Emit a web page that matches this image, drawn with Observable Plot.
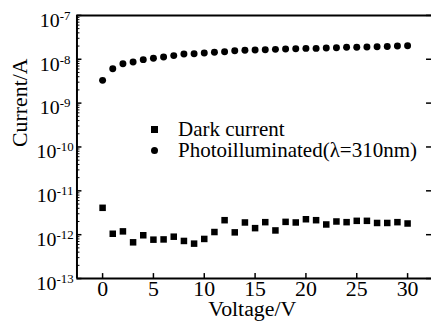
<!DOCTYPE html>
<html><head><meta charset="utf-8">
<script src="https://cdn.jsdelivr.net/npm/d3@7"></script>
<script src="https://cdn.jsdelivr.net/npm/@observablehq/plot@0.6"></script>
<style>
html,body{margin:0;padding:0;background:#fff;overflow:hidden;}
#wrap{position:relative;width:431px;height:321px;overflow:hidden;}
#wrap svg{display:block;font-family:"Liberation Serif","Times New Roman","DejaVu Serif",serif !important;}
#wrap svg text{font-family:"Liberation Serif","Times New Roman","DejaVu Serif",serif !important;}
.legend{position:absolute;left:151px;top:119px;font-family:"Liberation Serif","Times New Roman","DejaVu Serif",serif;font-size:21px;color:#000;}
.row{display:flex;align-items:center;height:21px;line-height:21px;white-space:nowrap;}
.mk{width:7px;height:7px;background:#000;margin-right:20px;flex:none;}
.mk.circ{border-radius:50%;}
</style>
</head><body>
<div id="wrap"></div>
<script>
const voltage = [0,1,2,3,4,5,6,7,8,9,10,11,12,13,14,15,16,17,18,19,20,21,22,23,24,25,26,27,28,29,30];
const darkCurrent = [4.1e-12,1.05e-12,1.19e-12,6.7e-13,9.7e-13,7.7e-13,7.8e-13,9.0e-13,7.2e-13,6.25e-13,8.0e-13,1.15e-12,2.14e-12,1.13e-12,1.90e-12,1.41e-12,1.93e-12,1.25e-12,1.96e-12,1.90e-12,2.25e-12,2.14e-12,1.71e-12,2.0e-12,1.93e-12,2.07e-12,2.07e-12,1.85e-12,1.85e-12,1.93e-12,1.80e-12];
const photoCurrent = [3.3e-9,6.1e-9,7.9e-9,8.7e-9,9.8e-9,1.05e-8,1.13e-8,1.21e-8,1.32e-8,1.34e-8,1.39e-8,1.44e-8,1.49e-8,1.57e-8,1.60e-8,1.62e-8,1.65e-8,1.68e-8,1.71e-8,1.74e-8,1.77e-8,1.77e-8,1.80e-8,1.83e-8,1.87e-8,1.87e-8,1.90e-8,1.93e-8,1.96e-8,2.00e-8,2.03e-8];
const seriesNames = ["Dark current","Photoilluminated(\u03bb=310nm)"];
const xTicks = [0,5,10,15,20,25,30];
const yMajor = [1e-13,1e-12,1e-11,1e-10,1e-9,1e-8,1e-7];
const yExponents = ["-13","-12","-11","-10","-9","-8","-7"];
const minorMultipliers = [2,3,4,5,6,7,8,9];
const xLabel = "Voltage/V";
const yLabel = "Current/A";

const xDomain = [-2.52, 32.35];
const yDomain = [1e-13, 1e-7];
const W = 434, H = 321, mL = 77, mR = 0, mT = 15, mB = 41;
const pw = W - mL - mR, ph = H - mT - mB;

const yMinor = yMajor.slice(0, -1).flatMap(m => minorMultipliers.map(k => m * k));
const darkRows = voltage.map((v, i) => ({v, c: darkCurrent[i]}));
const photoRows = voltage.map((v, i) => ({v, c: photoCurrent[i]}));

const chart = Plot.plot({
  width: W, height: H, marginLeft: mL, marginRight: mR, marginTop: mT, marginBottom: mB,
  style: {fontFamily: "'Liberation Serif', serif", background: "white", color: "black", overflow: "visible"},
  x: {domain: xDomain, label: null, axis: null},
  y: {type: "log", domain: yDomain, label: null, axis: null},
  marks: [
    Plot.axisX(xTicks, {tickSize: 0, tickPadding: 2, fontSize: 22, label: null, fill: "black"}),
    Plot.text(yMajor, {y: d => d, text: (d, i) => yExponents[i], frameAnchor: "left", dx: -22, dy: 5, textAnchor: "middle", fontSize: 20, fill: "black"}),
    Plot.text([xLabel], {frameAnchor: "bottom", lineAnchor: "middle", dy: 31, dx: -2, fontSize: 22, fill: "black"}),
    Plot.text([yLabel], {frameAnchor: "left", dx: -57, rotate: -90, fontSize: 22, fill: "black"}),
    Plot.ruleY(yMajor, {y: d => d, insetRight: pw - 5, stroke: "black", strokeWidth: 1.5}),
    Plot.ruleY(yMinor, {y: d => d, insetRight: pw - 3, stroke: "black", strokeWidth: 1}),
    Plot.ruleY(yMajor, {y: d => d, insetLeft: pw - 5, stroke: "black", strokeWidth: 1.5}),
    Plot.ruleX(xTicks, {x: d => d, insetTop: ph - 5, stroke: "black", strokeWidth: 1.5}),
    Plot.ruleX([xDomain[0]], {x: d => d, stroke: "black", strokeWidth: 2}),
    Plot.ruleY([yDomain[0], yDomain[1]], {y: d => d, stroke: "black", strokeWidth: 2}),
    Plot.dot(darkRows, {x: "v", y: "c", symbol: "square", r: 3.7, fill: "black", stroke: "none"}),
    Plot.dot(photoRows, {x: "v", y: "c", symbol: "circle", r: 3.5, fill: "black", stroke: "none"})
  ]
});

d3.select(chart).selectAll("text").each(function() {
  const s = this.textContent;
  if (!yExponents.includes(s)) return;
  const t = d3.select(this);
  t.text("10");
  t.append("tspan").attr("dy", "-7").attr("font-size", 13).text(s);
});

const wrap = document.getElementById("wrap");
wrap.appendChild(chart);
const legend = document.createElement("div");
legend.className = "legend";
seriesNames.forEach((name, i) => {
  const row = document.createElement("div");
  row.className = "row";
  const mk = document.createElement("span");
  mk.className = "mk" + (i === 1 ? " circ" : "");
  const tx = document.createElement("span");
  tx.textContent = name;
  row.appendChild(mk);
  row.appendChild(tx);
  legend.appendChild(row);
});
wrap.appendChild(legend);
</script>
</body></html>
